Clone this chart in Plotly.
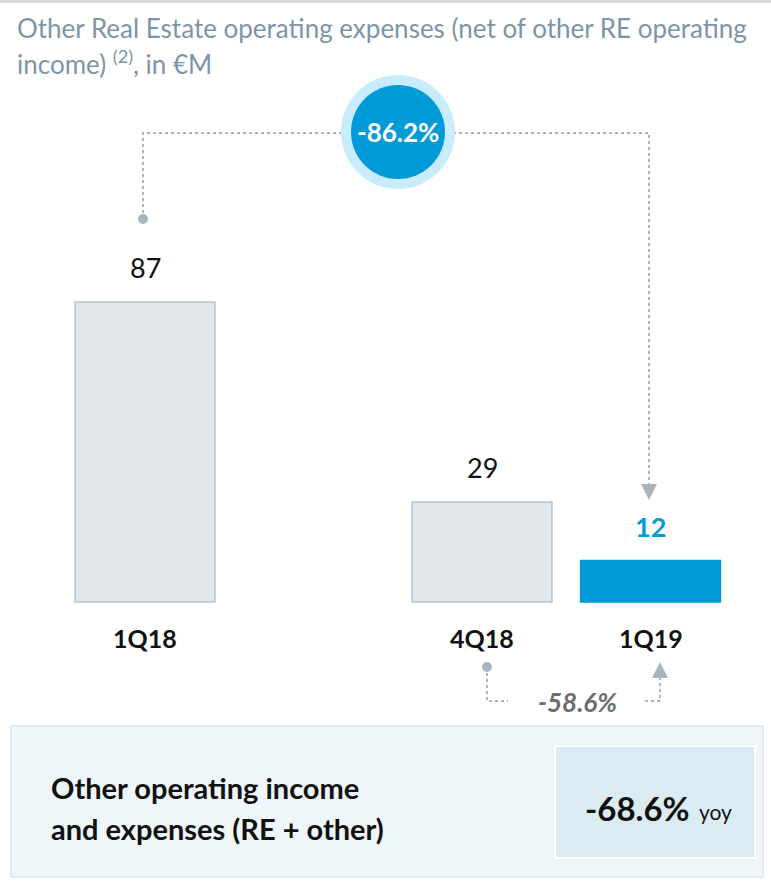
"""Other RE operating expenses bar chart with change callouts."""

import plotly.graph_objects as go

W, H = 771, 890

# ── data ─────────────────────────────────────────────────────────────────────
categories = ["1Q18", "4Q18", "1Q19"]
values = [87, 29, 12]
slots = ["1Q18", " ", "4Q18", "1Q19"]  # blank slot between 1Q18 and 4Q18
yoy_change = "-86.2%"
qoq_change = "-58.6%"
total_change = "-68.6%"
title_lines = [
    "Other Real Estate operating expenses (net of other RE operating",
    "income) <sup>(2)</sup>, in €M",
]
box_text = ["Other operating income", "and expenses (RE + other)"]

_FONT = "Lato"
_GREY_BAR = "#e2e7eb"
_GREY_LINE = "#b9c4cc"
_BLUE = "#009bd7"
_LIGHT_BLUE = "#c8ecfb"
_DOT = "#a9b5bd"
_TITLE = "#7d94a9"


def px(x):
    return x / W


def py(y):
    return 1 - y / H


def note(x, y, text, size, color="#111111", xanchor="center", yanchor="middle"):
    fig.add_annotation(
        xref="paper", yref="paper", x=px(x), y=py(y), xanchor=xanchor, yanchor=yanchor,
        showarrow=False, text=text, align="left",
        font=dict(family=_FONT, size=size, color=color),
    )


bar_colors = [_GREY_BAR, _GREY_BAR, _BLUE]
line_colors = [_GREY_LINE, _GREY_LINE, _BLUE]

fig = go.Figure(
    go.Bar(
        x=categories,
        y=values,
        width=0.83,
        marker=dict(color=bar_colors, line=dict(color=line_colors, width=1.5)),
        hoverinfo="x+y",
    )
)

# value labels above bars, and category labels below
for cat, val in zip(categories, values):
    last = cat == categories[-1]
    fig.add_annotation(
        x=cat, y=val, xanchor="center", yanchor="bottom", yshift=16, showarrow=False,
        text=f"<b>{val}</b>" if last else str(val),
        font=dict(family=_FONT, size=27, color=_BLUE if last else "#111111"),
    )
    fig.add_annotation(
        x=cat, y=0, xanchor="center", yanchor="middle", yshift=-36, showarrow=False,
        text=f"<b>{cat}</b>",
        font=dict(family=_FONT, size=25, color="#111111"),
    )

shapes = [
    # thin top rule
    dict(type="rect", xref="paper", yref="paper", x0=0, x1=1, y0=py(3), y1=py(0),
         fillcolor="#d9d9d9", line_width=0),
    # top connector 1Q18 -> 1Q19
    dict(type="path", xref="paper", yref="paper",
         path=f"M {px(143)} {py(219)} L {px(143)} {py(133)} L {px(649)} {py(133)} L {px(649)} {py(486)}",
         line=dict(color=_DOT, width=2, dash="dot")),
    dict(type="circle", xref="paper", yref="paper",
         x0=px(138), x1=px(148), y0=py(224), y1=py(214), fillcolor=_DOT, line_width=0),
    dict(type="path", xref="paper", yref="paper",
         path=f"M {px(641)} {py(484)} L {px(657)} {py(484)} L {px(649)} {py(500)} Z",
         fillcolor=_DOT, line_width=0),
    # bubble
    dict(type="circle", xref="paper", yref="paper",
         x0=px(341), x1=px(455), y0=py(189), y1=py(75), fillcolor=_LIGHT_BLUE, line_width=0),
    dict(type="circle", xref="paper", yref="paper",
         x0=px(351), x1=px(445), y0=py(179), y1=py(85), fillcolor=_BLUE, line_width=0),
    # bottom connector 4Q18 -> 1Q19
    dict(type="path", xref="paper", yref="paper",
         path=f"M {px(487)} {py(667)} L {px(487)} {py(701)} L {px(508)} {py(701)}",
         line=dict(color=_DOT, width=2, dash="dot")),
    dict(type="circle", xref="paper", yref="paper",
         x0=px(482), x1=px(492), y0=py(672), y1=py(662), fillcolor=_DOT, line_width=0),
    dict(type="path", xref="paper", yref="paper",
         path=f"M {px(645)} {py(701)} L {px(660)} {py(701)} L {px(660)} {py(677)}",
         line=dict(color=_DOT, width=2, dash="dot")),
    dict(type="path", xref="paper", yref="paper",
         path=f"M {px(652)} {py(678)} L {px(668)} {py(678)} L {px(660)} {py(662)} Z",
         fillcolor=_DOT, line_width=0),
    # summary box
    dict(type="rect", xref="paper", yref="paper",
         x0=px(11), x1=px(763), y0=py(877), y1=py(726),
         fillcolor="#eef6f9", line=dict(color="#d6e9f0", width=1.5)),
    dict(type="rect", xref="paper", yref="paper",
         x0=px(555), x1=px(755), y0=py(858), y1=py(746),
         fillcolor="#daecf2", line=dict(color="#ffffff", width=2)),
]
for s in shapes:
    fig.add_shape(layer="above", **s)

note(398, 132, f"<b>{yoy_change}</b>", 26, color="#ffffff")
note(577, 702, f"<b><i>{qoq_change}</i></b>", 26, color="#6b6d70")
for i, line in enumerate(box_text):
    note(49, 787 + 41 * i, f"<b>{line}</b>", 29, xanchor="left")
note(692, 808, f"<b>{total_change}</b>", 33, xanchor="right")
note(697, 811, "yoy", 21, xanchor="left")
note(15, 28, title_lines[0], 26, color=_TITLE, xanchor="left")
note(15, 63, title_lines[1], 26, color=_TITLE, xanchor="left")

fig.update_layout(
    width=W,
    height=H,
    paper_bgcolor="white",
    plot_bgcolor="white",
    showlegend=False,
    margin=dict(t=0, b=0, l=0, r=0),
    xaxis=dict(
        type="category", categoryorder="array", categoryarray=slots,
        range=[-145 / 168.5, (W - 145) / 168.5], visible=False, fixedrange=True,
    ),
    yaxis=dict(
        range=[-(H - 602) / 3.448, 602 / 3.448], visible=False, fixedrange=True,
    ),
)

fig.write_html(
    "out.html",
    config={"displayModeBar": False},
    post_script="document.body.style.margin='0';document.body.style.overflow='hidden';",
)
